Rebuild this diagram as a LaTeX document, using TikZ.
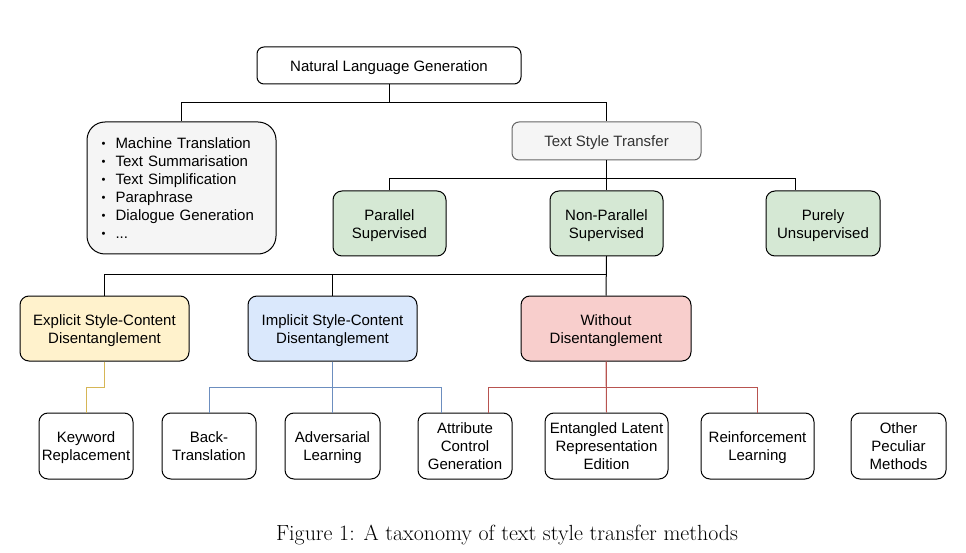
\documentclass[tikz,border=0pt]{standalone}
\usepackage{fontspec}
\newfontfamily\arialf{Liberation Sans}
\definecolor{gfill}{HTML}{D5E8D4}
\definecolor{yfill}{HTML}{FFF2CC}
\definecolor{bfill}{HTML}{DAE8FC}
\definecolor{rfill}{HTML}{F8CECC}
\definecolor{lgray}{HTML}{F5F5F5}
\definecolor{ystroke}{HTML}{D6B656}
\definecolor{bstroke}{HTML}{6C8EBF}
\definecolor{rstroke}{HTML}{B85450}
\definecolor{dgray}{HTML}{666666}
\definecolor{tgray}{HTML}{333333}
\newcommand{\tx}[1]{\raisebox{-2.3pt}[\height][\depth]{\begin{tabular}{@{}c@{}}#1\end{tabular}}}
\tikzset{
  box/.style={draw=black, line width=1pt, rounded corners=9pt,
    font=\arialf\fontsize{15}{18}\selectfont, inner sep=0pt, fill=white},
  smallbox/.style={box, rounded corners=7pt},
  conn/.style={line width=1pt, draw=black},
  yconn/.style={line width=1pt, draw=ystroke},
  bconn/.style={line width=1pt, draw=bstroke},
  rconn/.style={line width=1pt, draw=rstroke},
}
\newcommand{\bul}{\makebox[14pt][l]{\raisebox{0.5pt}{\scalebox{0.75}{\textbullet}}}}
\begin{document}
\begin{tikzpicture}[x=1pt,y=-1pt]
\useasboundingbox (0,0) rectangle (966,553);
% nodes
\node[smallbox, minimum width=264pt, minimum height=37pt] (nlg) at (389,65.5) {\tx{Natural Language Generation}};
\node[box, rounded corners=18pt, fill=lgray, draw=black, text width=160pt, align=left, inner xsep=14.5pt, minimum height=132pt] (tasks) at (181.5,188)
  {\bul Machine Translation\\ \bul Text Summarisation\\ \bul Text Simplification\\ \bul Paraphrase\\ \bul Dialogue Generation\\ \bul ...};
\node[smallbox, fill=lgray, draw=dgray, text=tgray, minimum width=189pt, minimum height=38pt] (tst) at (606.5,141) {\tx{Text Style Transfer}};
\node[box, fill=gfill, minimum width=113pt, minimum height=65pt] (par) at (389.5,223.5) {\tx{Parallel\\Supervised}};
\node[box, fill=gfill, minimum width=113pt, minimum height=65pt] (nonpar) at (606.5,223.5) {\tx{Non-Parallel\\Supervised}};
\node[box, fill=gfill, minimum width=114pt, minimum height=65pt] (pure) at (823,223.5) {\tx{Purely\\Unsupervised}};
\node[box, fill=yfill, minimum width=169pt, minimum height=65pt] (expl) at (104.5,328.5) {\tx{Explicit Style-Content\\Disentanglement}};
\node[box, fill=bfill, minimum width=169pt, minimum height=65pt] (impl) at (332.5,328.5) {\tx{Implicit Style-Content\\Disentanglement}};
\node[box, fill=rfill, minimum width=170pt, minimum height=65pt] (without) at (606,328.5) {\tx{Without\\Disentanglement}};
\node[box, minimum width=94pt, minimum height=66pt] (kw) at (86,446) {\tx{Keyword\\Replacement}};
\node[box, minimum width=94pt, minimum height=66pt] (bt) at (209,446) {\tx{Back-\\Translation}};
\node[box, minimum width=95pt, minimum height=66pt] (adv) at (332.5,446) {\tx{Adversarial\\Learning}};
\node[box, minimum width=94pt, minimum height=66pt] (attr) at (465,446) {\tx{Attribute\\Control\\Generation}};
\node[box, minimum width=123pt, minimum height=66pt] (ent) at (606.5,446) {\tx{Entangled Latent\\Representation\\Edition}};
\node[box, minimum width=113pt, minimum height=66pt] (rl) at (757.5,446) {\tx{Reinforcement\\Learning}};
\node[box, minimum width=95pt, minimum height=66pt] (other) at (898.5,446) {\tx{Other\\Peculiar\\Methods}};
\node[font=\fontsize{21.9}{26}\selectfont] (cap) at (507,534.5) {Figure 1: A taxonomy of text style transfer methods};
% connectors
\draw[conn] (nlg.south) -- (nlg.south |- 0,103) -| (tasks.north);
\draw[conn] (nlg.south) -- (nlg.south |- 0,103) -| (tst.north);
\draw[conn] (tst.south) -- (tst.south |- 0,179) -| (par.north);
\draw[conn] (tst.south) -- (nonpar.north);
\draw[conn] (tst.south) -- (tst.south |- 0,179) -| (pure.north -| 795,0);
\draw[conn] (nonpar.south) -- (nonpar.south |- 0,275) -| (expl.north);
\draw[conn] (nonpar.south) -- (nonpar.south |- 0,275) -| (impl.north);
\draw[conn] (nonpar.south) -- (without.north);
\draw[yconn] (expl.south) -- (expl.south |- 0,387) -| (kw.north);
\draw[bconn] (impl.south) -- (impl.south |- 0,387) -| (bt.north);
\draw[bconn] (impl.south) -- (adv.north);
\draw[bconn] (impl.south) -- (impl.south |- 0,387) -| (attr.north -| 441,0);
\draw[rconn] (without.south) -- (without.south |- 0,387) -| (attr.north -| 488,0);
\draw[rconn] (without.south) -- (ent.north);
\draw[rconn] (without.south) -- (without.south |- 0,387) -| (rl.north);
\end{tikzpicture}
\end{document}
